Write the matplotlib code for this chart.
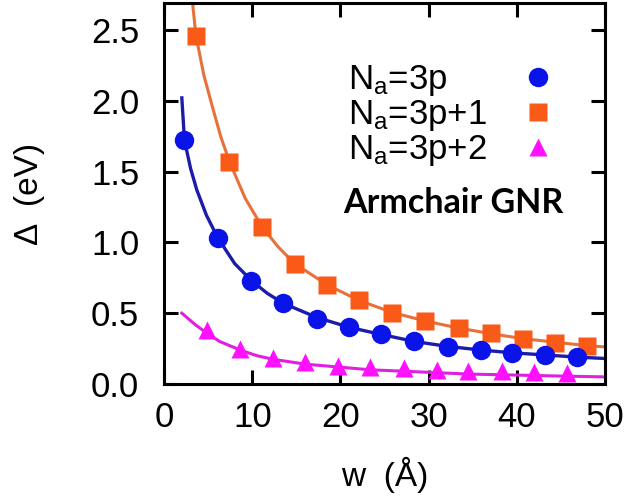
import matplotlib
matplotlib.use('Agg')
import matplotlib.pyplot as plt
from matplotlib.lines import Line2D

plt.rcParams['font.family'] = ['Liberation Sans', 'DejaVu Sans']
plt.rcParams['mathtext.fontset'] = 'custom'
plt.rcParams['mathtext.rm'] = 'Liberation Sans'
plt.rcParams['mathtext.it'] = 'Liberation Sans'

# markers (width in Angstrom, gap in eV)
w_3p = [2.3, 6.1, 9.9, 13.5, 17.3, 21.0, 24.6, 28.4, 32.2, 35.9, 39.5, 43.2, 46.8]
gap_3p = [1.72, 1.03, 0.73, 0.57, 0.46, 0.40, 0.35, 0.30, 0.26, 0.24, 0.22, 0.205, 0.19]

w_3p1 = [3.6, 7.4, 11.1, 14.8, 18.5, 22.1, 25.9, 29.6, 33.4, 37.1, 40.7, 44.4, 48.0]
gap_3p1 = [2.46, 1.57, 1.11, 0.85, 0.70, 0.59, 0.50, 0.445, 0.395, 0.36, 0.32, 0.29, 0.27]

w_3p2 = [4.8, 8.6, 12.3, 16.0, 19.7, 23.4, 27.2, 30.9, 34.5, 38.3, 42.0, 45.7]
gap_3p2 = [0.38, 0.25, 0.18, 0.155, 0.13, 0.12, 0.11, 0.10, 0.095, 0.09, 0.085, 0.08]

# fitted curves
fit_w_3p = [2.0, 2.3, 3.0, 3.7, 4.8, 6.1, 8.0, 9.9, 11.7, 13.5, 17.3, 21.0, 24.6,
            28.4, 32.2, 35.9, 39.5, 43.2, 46.8, 50.0]
fit_3p = [2.02, 1.72, 1.52, 1.37, 1.19, 1.03, 0.85, 0.73, 0.64, 0.57, 0.47, 0.40,
          0.35, 0.30, 0.265, 0.24, 0.22, 0.205, 0.19, 0.18]

fit_w_3p1 = [3.2, 3.6, 4.5, 5.5, 6.4, 7.4, 9.2, 11.1, 12.9, 14.8, 18.5, 22.1, 25.9,
             29.6, 33.4, 37.1, 40.7, 44.4, 48.0, 50.0]
fit_3p1 = [2.70, 2.46, 2.18, 1.95, 1.75, 1.57, 1.31, 1.11, 0.97, 0.85, 0.70, 0.59,
           0.505, 0.445, 0.395, 0.355, 0.32, 0.295, 0.27, 0.262]

fit_w_3p2 = [2.0, 3.5, 4.8, 6.3, 8.6, 10.5, 12.3, 16.0, 19.7, 23.4, 27.2, 30.9,
             34.5, 38.3, 42.0, 45.7, 50.0]
fit_3p2 = [0.50, 0.42, 0.36, 0.30, 0.24, 0.20, 0.175, 0.14, 0.12, 0.10, 0.09, 0.08,
           0.07, 0.065, 0.06, 0.055, 0.05]

labels = ['$\\mathregular{N_a}$=3p', '$\\mathregular{N_a}$=3p+1', '$\\mathregular{N_a}$=3p+2']

fig = plt.figure(figsize=(6.34, 4.99), dpi=100)
ax = fig.add_axes([0.259, 0.2305, 0.695, 0.7635])

ax.plot(fit_w_3p1, fit_3p1, color='#e8703a', lw=2.2, zorder=2)
ax.plot(fit_w_3p, fit_3p, color='#1c1ca8', lw=2.4, zorder=2)
ax.plot(fit_w_3p2, fit_3p2, color='#e020e0', lw=2.2, zorder=2)

ax.plot(w_3p1, gap_3p1, 's', color='#fa5a18', ms=13.5, mec='none', zorder=3)
ax.plot(w_3p, gap_3p, 'o', color='#0a14e8', ms=14, mec='none', zorder=3)
ax.plot(w_3p2, gap_3p2, '^', color='#ff10ff', ms=13, mec='none', zorder=3)

ax.set_xlim(0, 50)
ax.set_ylim(0, 2.69)
ax.set_xticks([0, 10, 20, 30, 40, 50])
ax.set_yticks([0.0, 0.5, 1.0, 1.5, 2.0, 2.5])
ax.set_yticklabels(['0.0', '0.5', '1.0', '1.5', '2.0', '2.5'])

for s in ax.spines.values():
    s.set_linewidth(2.2)
ax.tick_params(direction='in', length=10, width=2.2, top=True, right=True,
               labelsize=25)
ax.tick_params(axis='y', pad=18)
ax.tick_params(axis='x', pad=12)

ax.set_xlabel('w  (Å)', fontsize=24, labelpad=17)
ax.set_ylabel('Δ  (eV)', fontsize=24, labelpad=33)

# legend: markers column on the right (texts hidden), texts left-aligned separately
handles = [
    Line2D([], [], ls='none', marker='o', color='#0a14e8', ms=14, mec='none'),
    Line2D([], [], ls='none', marker='s', color='#fa5a18', ms=13.5, mec='none'),
    Line2D([], [], ls='none', marker='^', color='#ff10ff', ms=13, mec='none'),
]
leg_marks = ax.legend(handles, labels, loc='upper right', bbox_to_anchor=(0.887, 0.843),
                      frameon=False, markerfirst=False, fontsize=25, handlelength=1.0,
                      handletextpad=0.9, labelspacing=0.0, borderpad=0,
                      borderaxespad=0)
for t in leg_marks.get_texts():
    t.set_alpha(0)
ax.add_artist(leg_marks)

blank = [Line2D([], [], ls='none') for _ in labels]
ax.legend(blank, labels, loc='upper left', bbox_to_anchor=(0.417, 0.843),
          frameon=False, fontsize=25, handlelength=0, handletextpad=0,
          labelspacing=0.0, borderpad=0, borderaxespad=0)

ax.text(0.655, 0.476, 'Armchair GNR', transform=ax.transAxes, fontsize=24.5,
        fontweight='bold', family='Lato', ha='center', va='center')

fig.savefig('out.png', dpi=100)
